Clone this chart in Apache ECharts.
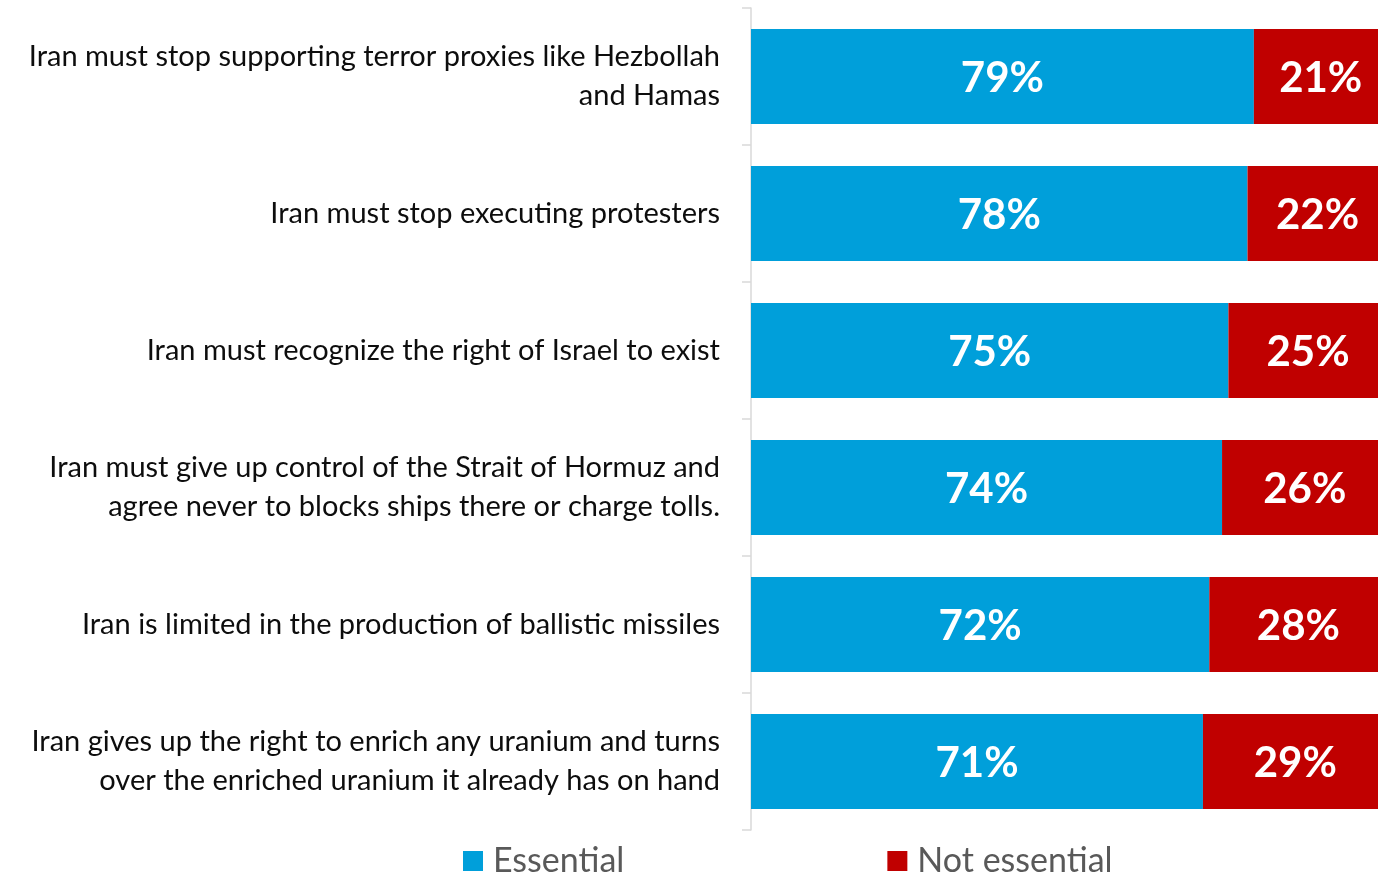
<!DOCTYPE html>
<html>
<head>
<meta charset="utf-8">
<script src="https://cdn.jsdelivr.net/npm/echarts@6/dist/echarts.min.js"></script>
<style>
html,body{margin:0;padding:0;background:#fff;}
#chart{width:1378px;height:874px;}
</style>
</head>
<body>
<div id="chart"></div>
<script>
const categories = [
  "Iran must stop supporting terror proxies like Hezbollah\nand Hamas",
  "Iran must stop executing protesters",
  "Iran must recognize the right of Israel to exist",
  "Iran must give up control of the Strait of Hormuz and\nagree never to blocks ships there or charge tolls.",
  "Iran is limited in the production of ballistic missiles",
  "Iran gives up the right to enrich any uranium and turns\nover the enriched uranium it already has on hand"
];
const essential = [79, 78, 75, 74, 72, 71];
const notEssential = [21, 22, 25, 26, 28, 29];
const seriesNames = ["Essential", "Not essential"];

const chart = echarts.init(document.getElementById('chart'));
const labelStyle = {
  show: true,
  position: 'inside',
  offset: [0, 2],
  formatter: p => p.value + '%',
  color: '#fff',
  fontFamily: 'Lato',
  fontWeight: 'bold',
  fontSize: 42
};
chart.setOption({
  animation: false,
  grid: { left: 751, right: 0, top: 8, bottom: 44 },
  legend: {
    top: 839,
    left: 458,
    itemWidth: 20,
    itemHeight: 20,
    itemGap: 263,
    icon: 'rect',
    textStyle: { fontFamily: 'Lato', fontSize: 34, color: '#595959', padding: [0, 0, 0, 5] },
    data: seriesNames
  },
  xAxis: {
    type: 'value', min: 0, max: 98.5, show: false
  },
  yAxis: {
    type: 'category',
    inverse: true,
    data: categories,
    axisLine: { show: true, lineStyle: { color: '#d9d9d9', width: 1.5 } },
    axisTick: { show: true, length: 9, lineStyle: { color: '#d9d9d9', width: 1.5 } },
    axisLabel: {
      margin: 31,
      fontFamily: 'Lato',
      fontSize: 29,
      lineHeight: 39,
      color: '#0d0d0d',
      align: 'right'
    }
  },
  series: [
    {
      name: seriesNames[0], type: 'bar', stack: 'total', barWidth: 95, clip: false,
      itemStyle: { color: '#009fda' },
      label: labelStyle,
      data: essential
    },
    {
      name: seriesNames[1], type: 'bar', stack: 'total', barWidth: 95, clip: false,
      itemStyle: { color: '#c00000' },
      label: labelStyle,
      data: notEssential
    }
  ]
});
</script>
</body>
</html>
